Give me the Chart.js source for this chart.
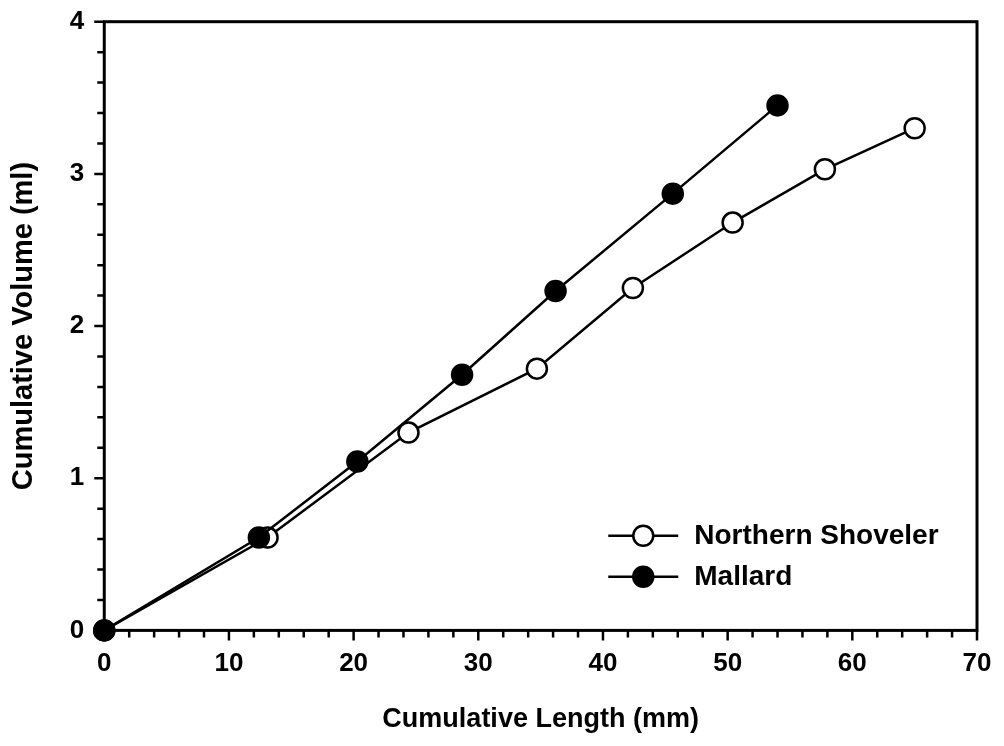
<!DOCTYPE html>
<html>
<head>
<meta charset="utf-8">
<script src="https://cdn.jsdelivr.net/npm/chart.js@4/dist/chart.umd.min.js"></script>
<style>
  body { margin: 0; background: #fff; }
</style>
</head>
<body>
<canvas id="lineChart" width="1004" height="746"></canvas>
<script>
// values
const shovelerLength = [0, 13.1, 24.4, 34.7, 42.4, 50.4, 57.8, 65.0];
const shovelerVolume = [0, 0.61, 1.30, 1.72, 2.25, 2.68, 3.03, 3.30];
const mallardLength = [0, 12.4, 20.3, 28.7, 36.2, 45.6, 54.0];
const mallardVolume = [0, 0.61, 1.11, 1.68, 2.23, 2.87, 3.45];

const seriesNames = ['Northern Shoveler', 'Mallard'];
const xTicks = [0, 10, 20, 30, 40, 50, 60, 70];
const yTicks = [0, 1, 2, 3, 4];

const fontFamily = '"Liberation Sans", Arial, sans-serif';
const toPoints = (xs, ys) => xs.map((x, i) => ({ x: x, y: ys[i] }));

// frame, outward ticks (minor + major) and legend inside the plot
const framePlugin = {
    id: 'frame',
    afterDraw(chart) {
        const ctx = chart.ctx;
        const a = chart.chartArea;
        const xs = chart.scales.x, ys = chart.scales.y;
        ctx.save();
        ctx.strokeStyle = '#000';
        ctx.lineWidth = 3;
        ctx.strokeRect(a.left, a.top, a.right - a.left, a.bottom - a.top);

        ctx.lineWidth = 2.5;
        ctx.beginPath();
        for (let i = 0; i <= 35; i++) {
            const px = xs.getPixelForValue(i * 2);
            const len = (i % 5 === 0) ? 10 : 7;
            ctx.moveTo(px, a.bottom);
            ctx.lineTo(px, a.bottom + len);
        }
        for (let i = 0; i <= 20; i++) {
            const py = ys.getPixelForValue(i * 0.2);
            const len = (i % 5 === 0) ? 10 : 7;
            ctx.moveTo(a.left, py);
            ctx.lineTo(a.left - len, py);
        }
        ctx.stroke();

        // legend
        const lx = a.left + 504, ly = a.top + 514, gap = 41;
        chart.data.datasets.forEach((ds, i) => {
            const y = ly + i * gap;
            ctx.strokeStyle = '#000';
            ctx.lineWidth = 2.5;
            ctx.beginPath();
            ctx.moveTo(lx, y);
            ctx.lineTo(lx + 70, y);
            ctx.stroke();
            ctx.beginPath();
            ctx.arc(lx + 35, y, ds.pointRadius, 0, Math.PI * 2);
            ctx.fillStyle = ds.pointBackgroundColor;
            ctx.fill();
            ctx.lineWidth = ds.pointBorderWidth;
            ctx.stroke();
            ctx.fillStyle = '#000';
            ctx.font = 'bold 28px ' + fontFamily;
            ctx.textBaseline = 'middle';
            ctx.textAlign = 'left';
            ctx.fillText(ds.label, lx + 86, y + 1);
        });
        ctx.restore();
    }
};

const ctx = document.getElementById('lineChart').getContext('2d');
new Chart(ctx, {
    type: 'line',
    data: {
        datasets: [{
            label: seriesNames[0],
            data: toPoints(shovelerLength, shovelerVolume),
            borderColor: '#000',
            borderWidth: 2.5,
            pointRadius: 10,
            pointBorderWidth: 2.5,
            pointBackgroundColor: '#fff',
            pointBorderColor: '#000',
            tension: 0,
            order: 2
        }, {
            label: seriesNames[1],
            data: toPoints(mallardLength, mallardVolume),
            borderColor: '#000',
            borderWidth: 2.5,
            pointRadius: 10,
            pointBorderWidth: 2.5,
            pointBackgroundColor: '#000',
            pointBorderColor: '#000',
            tension: 0,
            order: 1
        }]
    },
    options: {
        responsive: false,
        devicePixelRatio: 1,
        animation: false,
        clip: false,
        layout: { padding: { left: 7, right: 27, top: 6, bottom: 10 } },
        plugins: {
            legend: { display: false },
            tooltip: { enabled: false }
        },
        scales: {
            x: {
                type: 'linear',
                min: 0,
                max: 70,
                afterBuildTicks: s => { s.ticks = xTicks.map(v => ({ value: v })); },
                grid: { display: true, drawOnChartArea: false, color: 'transparent', tickLength: 10 },
                border: { display: false },
                ticks: {
                    color: '#000',
                    padding: 8,
                    maxRotation: 0,
                    autoSkip: false,
                    font: { family: fontFamily, size: 26, weight: 'bold' }
                },
                title: {
                    display: true,
                    text: 'Cumulative Length (mm)',
                    color: '#000',
                    padding: { top: 16, bottom: 0 },
                    font: { family: fontFamily, size: 27, weight: 'bold' }
                }
            },
            y: {
                type: 'linear',
                min: 0,
                max: 4,
                afterBuildTicks: s => { s.ticks = yTicks.map(v => ({ value: v })); },
                grid: { display: true, drawOnChartArea: false, color: 'transparent', tickLength: 10 },
                border: { display: false },
                ticks: {
                    color: '#000',
                    padding: 10,
                    autoSkip: false,
                    font: { family: fontFamily, size: 26, weight: 'bold', lineHeight: 0.9 }
                },
                title: {
                    display: true,
                    text: 'Cumulative Volume (ml)',
                    color: '#000',
                    padding: { top: 0, bottom: 18 },
                    font: { family: fontFamily, size: 29, weight: 'bold' }
                }
            }
        }
    },
    plugins: [framePlugin]
});
</script>
</body>
</html>
